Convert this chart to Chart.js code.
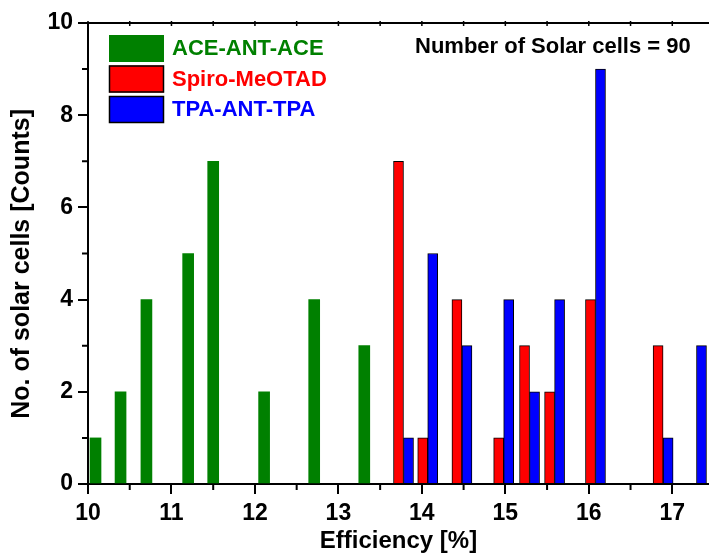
<!DOCTYPE html>
<html>
<head>
<meta charset="utf-8">
<script src="https://cdn.jsdelivr.net/npm/chart.js@4.4.1/dist/chart.umd.min.js"></script>
<style>
  html, body { margin: 0; padding: 0; background: #fff; }
  #wrap { width: 709px; height: 555px; }
</style>
</head>
<body>
<div id="wrap"><canvas id="histChart" width="709" height="555"></canvas></div>
<script>
// Efficiency (bar centre, %) and number of cells
const aceEff = [10.09, 10.39, 10.70, 11.20, 11.50, 12.11, 12.71, 13.31];
const aceCounts = [1, 2, 4, 5, 7, 2, 4, 3];
const spiroEff = [13.72, 14.01, 14.42, 14.92, 15.23, 15.53, 16.02, 16.83];
const spiroCounts = [7, 1, 4, 1, 3, 2, 4, 3];
const tpaEff = [13.84, 14.13, 14.54, 15.04, 15.35, 15.65, 16.14, 16.95, 17.35];
const tpaCounts = [1, 5, 3, 4, 2, 4, 9, 1, 3];

// axis ticks
const xTicks = [10, 11, 12, 13, 14, 15, 16, 17];
const xMinorTicks = [10.5, 11.5, 12.5, 13.5, 14.5, 15.5, 16.5];
const yTicks = [0, 2, 4, 6, 8, 10];
const yMinorTicks = [1, 3, 5, 7, 9];

const noteText = 'Number of Solar cells = 90';
const FONT = "'Liberation Sans', Arial, sans-serif";

function toPoints(xs, ys) {
    return xs.map((v, i) => ({ x: v, y: ys[i] }));
}

// minor ticks + top frame line
const frameTicks = {
    id: 'frameTicks',
    afterDraw(chart) {
        const { ctx, chartArea, scales: { x, y } } = chart;
        ctx.save();
        ctx.strokeStyle = '#000';
        ctx.lineWidth = 2;
        ctx.beginPath();
        xMinorTicks.forEach(v => {
            const px = x.getPixelForValue(v);
            ctx.moveTo(px, chartArea.bottom);
            ctx.lineTo(px, chartArea.bottom + 6);
        });
        yMinorTicks.forEach(v => {
            const py = y.getPixelForValue(v);
            ctx.moveTo(chartArea.left, py);
            ctx.lineTo(chartArea.left - 6, py);
        });
        ctx.moveTo(chartArea.left - 1, chartArea.top);
        ctx.lineTo(chartArea.right, chartArea.top);
        ctx.stroke();
        // little ticks on the top axis
        ctx.lineWidth = 1.5;
        ctx.beginPath();
        xTicks.concat(xMinorTicks).forEach(v => {
            const px = x.getPixelForValue(v);
            ctx.moveTo(px, chartArea.top - 2);
            ctx.lineTo(px, chartArea.top + 3);
        });
        ctx.stroke();
        ctx.restore();
    }
};

// legend drawn inside the plot, plus the note text
const insideLegend = {
    id: 'insideLegend',
    afterDraw(chart) {
        const ctx = chart.ctx;
        ctx.save();
        ctx.font = 'bold 22px ' + FONT;
        ctx.textBaseline = 'middle';
        chart.data.datasets.forEach((ds, i) => {
            const top = 35 + i * 30.5;
            ctx.fillStyle = ds.backgroundColor;
            ctx.fillRect(109, top, 55, 27);
            if (ds.borderWidth) {
                ctx.strokeStyle = '#000';
                ctx.lineWidth = 1.5;
                ctx.strokeRect(109.5, top + 0.5, 54, 26);
            }
            ctx.fillStyle = ds.backgroundColor;
            ctx.fillText(ds.label, 172, top + 14);
        });
        ctx.fillStyle = '#000';
        ctx.fillText(noteText, 415, 47);
        ctx.restore();
    }
};

const ctx = document.getElementById('histChart').getContext('2d');
const histChart = new Chart(ctx, {
    type: 'bar',
    data: {
        datasets: [{
            label: 'ACE-ANT-ACE',
            data: toPoints(aceEff, aceCounts),
            backgroundColor: '#008000',
            borderWidth: 0,
            barThickness: 11
        }, {
            label: 'Spiro-MeOTAD',
            data: toPoints(spiroEff, spiroCounts),
            backgroundColor: '#ff0000',
            borderColor: '#000',
            borderWidth: 1,
            barThickness: 10
        }, {
            label: 'TPA-ANT-TPA',
            data: toPoints(tpaEff, tpaCounts),
            backgroundColor: '#0000ff',
            borderColor: '#000',
            borderWidth: 1,
            barThickness: 10
        }]
    },
    options: {
        responsive: false,
        animation: false,
        devicePixelRatio: 1,
        grouped: false,
        layout: { padding: { top: 23, right: 0, bottom: 0, left: 0 } },
        plugins: {
            legend: { display: false },
            tooltip: { enabled: false }
        },
        scales: {
            x: {
                type: 'linear',
                min: 10,
                max: 17.44,
                offset: false,
                afterBuildTicks: s => { s.ticks = xTicks.map(v => ({ value: v })); },
                afterFit: s => { s.height = 71; },
                grid: { display: true, offset: false, drawOnChartArea: false, tickLength: 10, color: '#000', lineWidth: 2 },
                border: { display: true, color: '#000', width: 2 },
                ticks: { color: '#000', padding: 6, maxRotation: 0, font: { family: FONT, size: 23, weight: 'bold' } },
                title: {
                    display: true,
                    text: 'Efficiency [%]',
                    color: '#000',
                    padding: { top: 0, bottom: 2 },
                    font: { family: FONT, size: 24, weight: 'bold', lineHeight: 1 }
                }
            },
            y: {
                min: 0,
                max: 10,
                afterBuildTicks: s => { s.ticks = yTicks.map(v => ({ value: v })); },
                afterFit: s => { s.width = 88; },
                grid: { display: true, drawOnChartArea: false, tickLength: 10, color: '#000', lineWidth: 2 },
                border: { display: true, color: '#000', width: 2 },
                ticks: { color: '#000', padding: 5, font: { family: FONT, size: 23, weight: 'bold' } },
                title: {
                    display: true,
                    text: 'No. of solar cells [Counts]   ',
                    color: '#000',
                    padding: { top: 10, bottom: 0 },
                    font: { family: FONT, size: 25, weight: 'bold', lineHeight: 1 }
                }
            }
        }
    },
    plugins: [frameTicks, insideLegend]
});
</script>
</body>
</html>
